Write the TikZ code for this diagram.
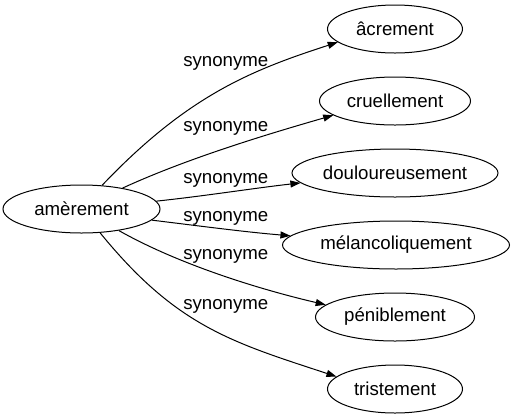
\documentclass[tikz,border=0pt]{standalone}
\usepackage{fontspec}
\setmainfont{Liberation Sans}
\usetikzlibrary{shapes.geometric,arrows.meta}
\begin{document}
\begin{tikzpicture}[x=0.75pt,y=-0.75pt,
  word/.style={ellipse,draw,line width=0.75pt,inner sep=0pt,minimum height=36pt,font=\fontsize{14}{16}\selectfont},
  lbl/.style={anchor=base west,inner sep=0pt,font=\fontsize{14}{16}\selectfont},
  syn/.style={line width=0.75pt,-{Triangle[length=7.5pt,width=5.25pt]}}]
\useasboundingbox (0,0) rectangle (511,419);
\node[word,minimum width=117.75pt] (a) at (81.5,209) {amèrement};
\node[word,minimum width=101.25pt] (b1) at (395,29) {âcrement};
\node[word,minimum width=113.25pt] (b2) at (395,101) {cruellement};
\node[word,minimum width=154.5pt] (b3) at (395,173) {douloureusement};
\node[word,minimum width=170.25pt] (b4) at (396,245) {mélancoliquement};
\node[word,minimum width=119.25pt] (b5) at (395,317) {péniblement};
\node[word,minimum width=101.25pt] (b6) at (395,389) {tristement};
\draw[syn] (a.49.5) .. controls (188,95) and (252,70) .. (b1.193.8);
\draw[syn] (a.27.9) .. controls (187,158.5) and (266,134.6) .. (b2.193);
\draw[syn] (a.6.1) .. controls (205,196) and (255,188) .. (b3.186.1);
\draw[syn] (a.-9.8) .. controls (200,226) and (245,232) .. (b4.175.1);
\draw[syn] (a.-30.6) .. controls (178,264) and (258,289) .. (b5.170.1);
\draw[syn] (a.-52.4) .. controls (176,326) and (231,342) .. (b6.168.7);
\node[lbl] (l1) at (183,66) {synonyme};
\node[lbl] (l2) at (183,131.5) {synonyme};
\node[lbl] (l3) at (183,183) {synonyme};
\node[lbl] (l4) at (183,221.5) {synonyme};
\node[lbl] (l5) at (183,259) {synonyme};
\node[lbl] (l6) at (183,309.5) {synonyme};
\end{tikzpicture}
\end{document}
